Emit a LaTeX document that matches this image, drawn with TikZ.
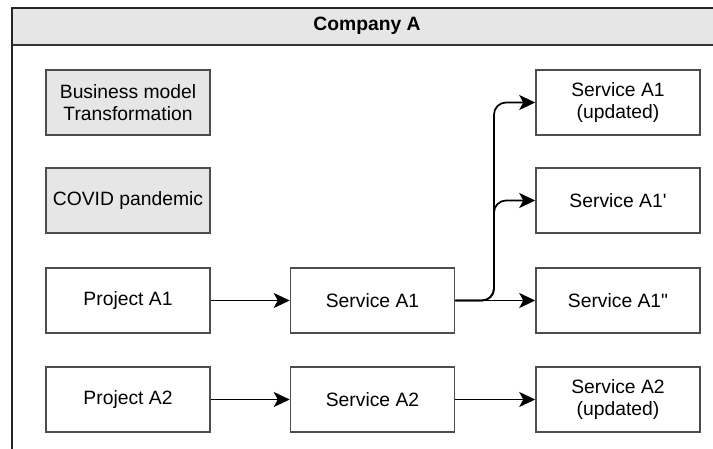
\documentclass[tikz,border=0pt]{standalone}
\usepackage{fontspec}
\newfontfamily\lsans{Liberation Sans}
\usetikzlibrary{arrows.meta}
\definecolor{boxline}{HTML}{4D4D4D}
\definecolor{panel}{HTML}{E6E6E6}
\begin{document}
\begin{tikzpicture}[x=1pt,y=-1pt,
  every node/.style={font=\lsans\fontsize{19.3}{22}\selectfont},
  box/.style={draw=boxline, line width=1.5pt, fill=white, minimum width=164pt,
    minimum height=65pt, inner sep=0pt, align=center},
  greybox/.style={box, fill=panel},
  arr/.style={draw=black, line width=1.7pt,
    -{Stealth[length=16pt,width=15pt,inset=4pt]}}]
\useasboundingbox (0,0) rectangle (713,448);
\begin{scope}
\clip (0,0) rectangle (713,448);
% outer container with its title bar
\fill[white] (12,7.5) rectangle (722,470);
\fill[panel] (12,7.5) rectangle (722,44.5);
\draw[draw=black!80, line width=2pt] (12,44.5) -- (722,44.5);
\draw[draw=black!85, line width=2pt] (12,470) -- (12,7.5) -- (722,7.5) -- (722,470);
\end{scope}
\node[font=\lsans\fontsize{19.3}{22}\selectfont\bfseries] (title) at (367,26) {Company A};

% left column
\node[greybox] (bmt) at (128,102.5) {Business model\\Transformation};
\node[greybox] (covid) at (128,200.5) {COVID pandemic};
\node[box] (pa1) at (128,300.5) {Project A1};
\node[box] (pa2) at (128,399.5) {Project A2};

% middle column
\node[box] (sa1) at (372.5,300.5) {Service A1};
\node[box] (sa2) at (372.5,399.5) {Service A2};

% right column
\node[box] (sa1u) at (618,102.5) {Service A1\\(updated)};
\node[box] (sa1p) at (618,200.5) {Service A1'};
\node[box] (sa1pp) at (618,300.5) {Service A1"};
\node[box] (sa2u) at (618,399.5) {Service A2\\(updated)};

% connectors
\coordinate (fork) at (494,300.5);
\draw[arr] (pa1) -- (sa1);
\draw[arr] (pa2) -- (sa2);
\draw[arr] (sa2) -- (sa2u);
\draw[arr] (sa1) -- (sa1pp);
\draw[arr, rounded corners=12pt] (sa1.east) -- (fork) |- (sa1u.west);
\draw[arr, rounded corners=12pt] (sa1.east) -- (fork) |- (sa1p.west);
\end{tikzpicture}
\end{document}
